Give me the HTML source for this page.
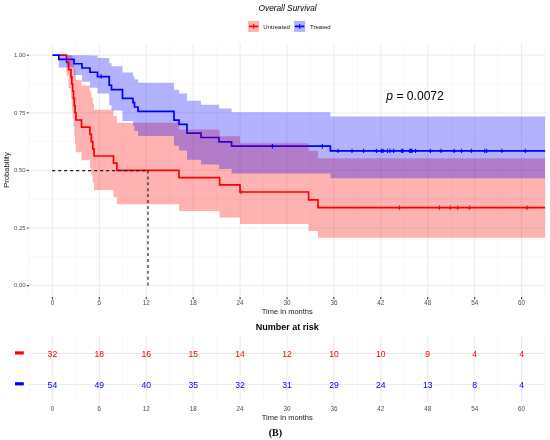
<!DOCTYPE html>
<html><head><meta charset="utf-8"><style>
html,body{margin:0;padding:0;background:#fff;}
body{width:550px;height:440px;overflow:hidden;}
svg{display:block;will-change:transform;}
</style></head><body>
<svg width="550" height="440" viewBox="0 0 550 440">
<rect width="550" height="440" fill="#ffffff"/>
<g fill="none" stroke-linecap="butt">
<path d="M28.94,43.5V296.9M75.86,43.5V296.9M122.78,43.5V296.9M169.7,43.5V296.9M216.62,43.5V296.9M263.54,43.5V296.9M310.46,43.5V296.9M357.38,43.5V296.9M404.3,43.5V296.9M451.22,43.5V296.9M498.14,43.5V296.9M545.06,43.5V296.9M28.7,256.8H545.1M28.7,199.2H545.1M28.7,141.6H545.1M28.7,84H545.1M28.94,335.1V403M75.86,335.1V403M122.78,335.1V403M169.7,335.1V403M216.62,335.1V403M263.54,335.1V403M310.46,335.1V403M357.38,335.1V403M404.3,335.1V403M451.22,335.1V403M498.14,335.1V403M545.06,335.1V403" stroke="#f4f4f4" stroke-width="0.6"/>
<path d="M52.4,43.5V296.9M99.32,43.5V296.9M146.24,43.5V296.9M193.16,43.5V296.9M240.08,43.5V296.9M287,43.5V296.9M333.92,43.5V296.9M380.84,43.5V296.9M427.76,43.5V296.9M474.68,43.5V296.9M521.6,43.5V296.9M28.7,285.6H545.1M28.7,228H545.1M28.7,170.4H545.1M28.7,112.8H545.1M28.7,55.2H545.1M52.4,335.1V403M99.32,335.1V403M146.24,335.1V403M193.16,335.1V403M240.08,335.1V403M287,335.1V403M333.92,335.1V403M380.84,335.1V403M427.76,335.1V403M474.68,335.1V403M521.6,335.1V403M28.7,353.5H545.1M28.7,384.6H545.1" stroke="#ebebeb" stroke-width="1"/>
<path d="M26.9,285.6H28.7M26.9,228H28.7M26.9,170.4H28.7M26.9,112.8H28.7M26.9,55.2H28.7M52.4,297V299.2M99.32,297V299.2M146.24,297V299.2M193.16,297V299.2M240.08,297V299.2M287,297V299.2M333.92,297V299.2M380.84,297V299.2M427.76,297V299.2M474.68,297V299.2M521.6,297V299.2" stroke="#333333" stroke-width="1.1"/>
</g>
<g font-family="Liberation Sans, sans-serif" fill="#4d4d4d" font-size="6">
<text x="25.6" y="287.3" text-anchor="end">0.00</text><text x="25.6" y="229.7" text-anchor="end">0.25</text><text x="25.6" y="172.1" text-anchor="end">0.50</text><text x="25.6" y="114.5" text-anchor="end">0.75</text><text x="25.6" y="56.9" text-anchor="end">1.00</text>
<text x="52.4" y="305.3" text-anchor="middle" font-size="6.3">0</text><text x="99.32" y="305.3" text-anchor="middle" font-size="6.3">6</text><text x="146.24" y="305.3" text-anchor="middle" font-size="6.3">12</text><text x="193.16" y="305.3" text-anchor="middle" font-size="6.3">18</text><text x="240.08" y="305.3" text-anchor="middle" font-size="6.3">24</text><text x="287" y="305.3" text-anchor="middle" font-size="6.3">30</text><text x="333.92" y="305.3" text-anchor="middle" font-size="6.3">36</text><text x="380.84" y="305.3" text-anchor="middle" font-size="6.3">42</text><text x="427.76" y="305.3" text-anchor="middle" font-size="6.3">48</text><text x="474.68" y="305.3" text-anchor="middle" font-size="6.3">54</text><text x="521.6" y="305.3" text-anchor="middle" font-size="6.3">60</text>
<text x="52.4" y="410.6" text-anchor="middle" font-size="6.3">0</text><text x="99.32" y="410.6" text-anchor="middle" font-size="6.3">6</text><text x="146.24" y="410.6" text-anchor="middle" font-size="6.3">12</text><text x="193.16" y="410.6" text-anchor="middle" font-size="6.3">18</text><text x="240.08" y="410.6" text-anchor="middle" font-size="6.3">24</text><text x="287" y="410.6" text-anchor="middle" font-size="6.3">30</text><text x="333.92" y="410.6" text-anchor="middle" font-size="6.3">36</text><text x="380.84" y="410.6" text-anchor="middle" font-size="6.3">42</text><text x="427.76" y="410.6" text-anchor="middle" font-size="6.3">48</text><text x="474.68" y="410.6" text-anchor="middle" font-size="6.3">54</text><text x="521.6" y="410.6" text-anchor="middle" font-size="6.3">60</text>
</g>
<text x="287.6" y="11.3" text-anchor="middle" font-family="Liberation Sans, sans-serif" font-style="italic" font-size="8.3" fill="#000">Overall Survival</text>
<rect x="248.1" y="20.9" width="11" height="11" fill="#ffb3b3"/>
<rect x="294.1" y="20.9" width="11" height="11" fill="#b3b3ff"/>
<path d="M249,26.4H258.3" stroke="#ff0000" stroke-width="1.7" fill="none"/><path d="M253.7,24V28.8" stroke="#ff0000" stroke-width="1.1" fill="none"/>
<path d="M295,26.4H304.3" stroke="#0000ff" stroke-width="1.7" fill="none"/><path d="M299.7,24V28.8" stroke="#0000ff" stroke-width="1.1" fill="none"/>
<g font-family="Liberation Sans, sans-serif" font-size="6.05" fill="#111">
<text x="263.3" y="28.6">Untreated</text>
<text x="310" y="28.6">Treated</text>
</g>
<text transform="translate(9.2,170) rotate(-90)" text-anchor="middle" font-family="Liberation Sans, sans-serif" font-size="7.6" fill="#1a1a1a">Probability</text>
<g fill="none" stroke-linejoin="miter">
<path d="M58,55.2H66.5V62.4H68.6V69.6H71V76.8H71.82V84H72.64V91.2H73.46V98.4H74.28V105.6H75.1V112.8H75.92V120H81.5V127.2H89.9V134.4H91.3V141.6H92.8V148.8H94V156H113.5V163.2H116.9V170.4H179V177.6H219.6V184.8H240V192H308.6V199.8H318V207.6H545.1" stroke="#ff0000" stroke-width="1.7"/>
<path d="M52.4,55.2H58.8V59.47H74V63.73H82V68H90V72.27H97.5V76.53H109.2V85.24H111.5V89.6H122.5V98.31H133V102.67H134.5V107.02H138V111.38H174V120.09H179V124.44H187V133.16H201V137.51H219V141.87H231.6V146.22H330.4V150.87H545.1" stroke="#0000ff" stroke-width="1.7"/>
</g>
<path d="M66.5,55.2V55.2H68.6V55.2H71V55.2H71.82V55.79H72.64V59.94H73.46V64.5H74.28V69.38H75.1V74.53H75.92V79.92H81.5V85.52H89.9V91.31H91.3V97.27H92.8V103.4H94V109.68H113.5V116.12H116.9V122.7H179V129.42H219.6V136.29H240V143.31H308.6V150.73H318V158.36H545.1V237.78H318V231.02H308.6V224.03H240V217.55H219.6V210.91H179V204.13H116.9V197.2H113.5V190.12H94V182.89H92.8V175.5H91.3V167.93H89.9V160.2H81.5V152.27H75.92V144.13H75.1V135.75H74.28V127.1H73.46V118.13H72.64V108.75H71.82V98.82H71V88.08H68.6V75.87H66.5V55.2Z" fill="#ff0000" fill-opacity="0.3"/>
<path d="M58.8,55.2V55.2H74V55.2H82V55.2H90V55.55H97.5V57.94H109.2V63.37H111.5V66.32H122.5V72.59H133V75.87H134.5V79.23H138V82.67H174V89.76H179V93.39H187V100.83H201V104.63H219V108.48H231.6V112.37H330.4V116.47H545.1V178.27H330.4V173.46H231.6V168.96H219V164.42H201V159.83H187V150.48H179V145.72H174V136.02H138V131.07H134.5V126.04H133V120.93H122.5V110.41H111.5V104.97H109.2V93.61H97.5V87.77H90V81.63H82V75.04H74V67.6H58.8V55.2Z" fill="#0000ff" fill-opacity="0.3"/>
<g fill="none" stroke-width="1.1">
<path d="M241,189.8v4.4M238.8,192h4.4M399.4,205.4v4.4M397.2,207.6h4.4M439.4,205.4v4.4M437.2,207.6h4.4M450.2,205.4v4.4M448,207.6h4.4M457.6,205.4v4.4M455.4,207.6h4.4M469.4,205.4v4.4M467.2,207.6h4.4M527.1,205.4v4.4M524.9,207.6h4.4" stroke="#ff0000"/>
<path d="M101.2,74.33v4.4M99,76.53h4.4M272.4,144.02v4.4M270.2,146.22h4.4M322.4,144.02v4.4M320.2,146.22h4.4M338,148.67v4.4M335.8,150.87h4.4M352,148.67v4.4M349.8,150.87h4.4M363.6,148.67v4.4M361.4,150.87h4.4M376.4,148.67v4.4M374.2,150.87h4.4M381.6,148.67v4.4M379.4,150.87h4.4M383,148.67v4.4M380.8,150.87h4.4M387.6,148.67v4.4M385.4,150.87h4.4M390,148.67v4.4M387.8,150.87h4.4M393.6,148.67v4.4M391.4,150.87h4.4M401.6,148.67v4.4M399.4,150.87h4.4M403,148.67v4.4M400.8,150.87h4.4M409.6,148.67v4.4M407.4,150.87h4.4M411,148.67v4.4M408.8,150.87h4.4M412,148.67v4.4M409.8,150.87h4.4M415.6,148.67v4.4M413.4,150.87h4.4M430.4,148.67v4.4M428.2,150.87h4.4M441.1,148.67v4.4M438.9,150.87h4.4M454.2,148.67v4.4M452,150.87h4.4M461.5,148.67v4.4M459.3,150.87h4.4M471.3,148.67v4.4M469.1,150.87h4.4M484.8,148.67v4.4M482.6,150.87h4.4M486.6,148.67v4.4M484.4,150.87h4.4M501.8,148.67v4.4M499.6,150.87h4.4M525.4,148.67v4.4M523.2,150.87h4.4" stroke="#0000ff"/>
</g>
<g fill="none" stroke="#1e1e1e" stroke-width="1.15" stroke-dasharray="3 2.9">
<path d="M52.1,170.6H148" stroke-dasharray="3.1 2.9"/>
<path d="M148,285.6V170.4"/>
</g>
<text x="386.3" y="99.9" font-family="Liberation Sans, sans-serif" font-size="12.1" fill="#000"><tspan font-style="italic">p</tspan> = 0.0072</text>
<text x="287.3" y="313.6" text-anchor="middle" font-family="Liberation Sans, sans-serif" font-size="7.5" fill="#1a1a1a">Time in months</text>
<text x="287.3" y="329.8" text-anchor="middle" font-family="Liberation Sans, sans-serif" font-weight="bold" font-size="9" fill="#000">Number at risk</text>
<rect x="15" y="351.3" width="8.8" height="3.2" fill="#ff0000"/>
<rect x="15" y="382.2" width="8.8" height="3.2" fill="#0000ff"/>
<g font-family="Liberation Sans, sans-serif" font-size="8.6" text-anchor="middle">
<text x="52.4" y="356.6" fill="#ff0000">32</text><text x="52.4" y="387.7" fill="#0000ff">54</text><text x="99.32" y="356.6" fill="#ff0000">18</text><text x="99.32" y="387.7" fill="#0000ff">49</text><text x="146.24" y="356.6" fill="#ff0000">16</text><text x="146.24" y="387.7" fill="#0000ff">40</text><text x="193.16" y="356.6" fill="#ff0000">15</text><text x="193.16" y="387.7" fill="#0000ff">35</text><text x="240.08" y="356.6" fill="#ff0000">14</text><text x="240.08" y="387.7" fill="#0000ff">32</text><text x="287" y="356.6" fill="#ff0000">12</text><text x="287" y="387.7" fill="#0000ff">31</text><text x="333.92" y="356.6" fill="#ff0000">10</text><text x="333.92" y="387.7" fill="#0000ff">29</text><text x="380.84" y="356.6" fill="#ff0000">10</text><text x="380.84" y="387.7" fill="#0000ff">24</text><text x="427.76" y="356.6" fill="#ff0000">9</text><text x="427.76" y="387.7" fill="#0000ff">13</text><text x="474.68" y="356.6" fill="#ff0000">4</text><text x="474.68" y="387.7" fill="#0000ff">8</text><text x="521.6" y="356.6" fill="#ff0000">4</text><text x="521.6" y="387.7" fill="#0000ff">4</text>
</g>
<text x="287.3" y="419.5" text-anchor="middle" font-family="Liberation Sans, sans-serif" font-size="7.5" fill="#1a1a1a">Time in months</text>
<text x="275.4" y="436" text-anchor="middle" font-family="Liberation Serif, serif" font-weight="bold" font-size="10" fill="#000">(B)</text>
</svg>
</body></html>
